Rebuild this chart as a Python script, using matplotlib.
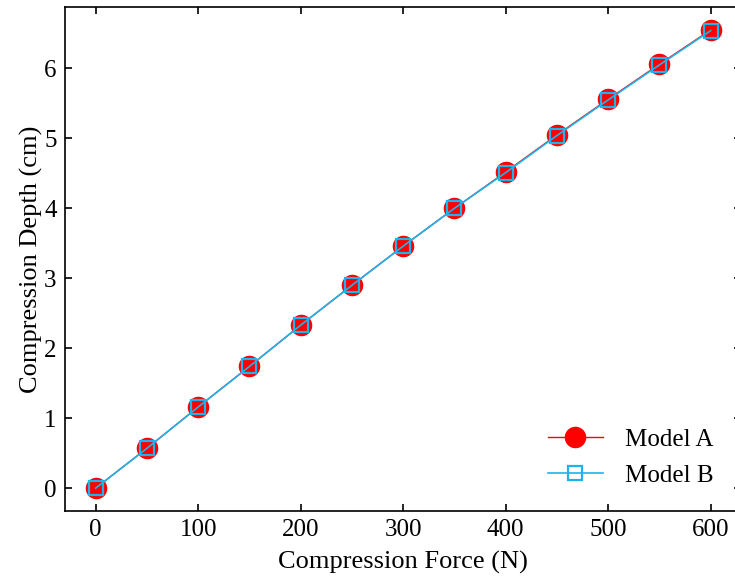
import numpy as np
import matplotlib
matplotlib.use('Agg')
import matplotlib.pyplot as plt

plt.rcParams['font.family'] = ['Liberation Serif', 'DejaVu Serif']

# compression force (N) and measured depth (cm) for the two models
force = [0, 50, 100, 150, 200, 250, 300, 350, 400, 450, 500, 550, 600]
depth_a = [0.00, 0.57, 1.16, 1.74, 2.33, 2.90, 3.46, 4.00, 4.52, 5.05, 5.56, 6.06, 6.55]
depth_b = [0.00, 0.57, 1.16, 1.74, 2.33, 2.90, 3.46, 4.00, 4.51, 5.04, 5.55, 6.05, 6.54]

fig = plt.figure(figsize=(7.35, 5.79), dpi=100)
# the right spine sits just past the edge of the canvas
ax = fig.add_axes([0.0884, 0.1174, 0.9204, 0.8705])

ax.plot(force, depth_a, '-', color='#ff0000', linewidth=1.0,
        marker='o', markersize=14.5, label='Model A')
ax.plot(force, depth_b, '-', color='#1cb4ec', linewidth=1.2,
        marker='s', markersize=10, markerfacecolor='none',
        markeredgewidth=1.6, label='Model B')

ax.set_xlim(-30, 630)
ax.set_ylim(-0.3275, 6.8775)
ax.set_xticks([0, 100, 200, 300, 400, 500, 600])
ax.set_yticks([0, 1, 2, 3, 4, 5, 6])
ax.tick_params(direction='in', top=True, right=True, length=5, width=1.2,
               labelsize=18, pad=6)
for sp in ax.spines.values():
    sp.set_linewidth(1.2)

ax.set_xlabel('Compression Force (N)', fontsize=19, labelpad=7)
ax.set_ylabel('Compression Depth (cm)', fontsize=19, labelpad=1)

ax.legend(loc='lower right', bbox_to_anchor=(724 / 735, 1 - 497 / 579),
          bbox_transform=fig.transFigure, frameon=False, fontsize=18,
          handlelength=2.2, handletextpad=0.9, labelspacing=0.55,
          borderaxespad=0)

fig.savefig('out.png', dpi=100)
